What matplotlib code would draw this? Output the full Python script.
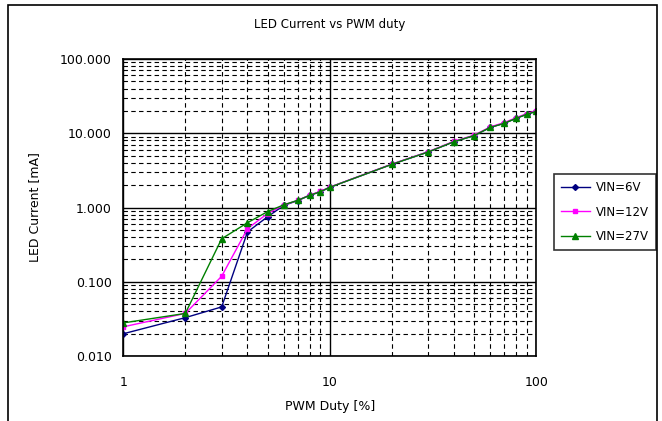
import numpy as np
import matplotlib
matplotlib.use("Agg")
import matplotlib.pyplot as plt
import matplotlib.patches as patches
from matplotlib.ticker import FixedLocator, NullFormatter

# PWM duty [%]
duty = [1, 2, 3, 4, 5, 6, 7, 8, 9, 10, 20, 30, 40, 50, 60, 70, 80, 90, 100]

# LED current [mA]
vin_6v = [0.020, 0.033, 0.046, 0.47, 0.75, 1.07, 1.24, 1.46, 1.63, 1.87,
          3.82, 5.6, 7.7, 9.3, 12.0, 13.6, 15.9, 18.0, 19.7]
vin_12v = [0.0248, 0.0376, 0.119, 0.52, 0.83, 1.08, 1.25, 1.47, 1.65, 1.88,
           3.85, 5.65, 7.8, 9.4, 12.2, 13.9, 16.2, 18.4, 20.2]
vin_27v = [0.028, 0.0376, 0.38, 0.625, 0.88, 1.09, 1.25, 1.46, 1.63, 1.87,
           3.82, 5.6, 7.7, 9.3, 12.0, 13.6, 15.9, 18.0, 19.7]

y_ticks = [0.01, 0.1, 1, 10, 100]
y_labels = ["0.010", "0.100", "1.000", "10.000", "100.000"]
x_ticks = [1, 10, 100]
x_labels = ["1", "10", "100"]

plt.rcParams['font.family'] = ['DejaVu Sans']

fig = plt.figure(figsize=(6.62, 4.21), dpi=100)
ax = fig.add_axes([0.186, 0.154, 0.624, 0.706])

ax.plot(duty, vin_6v, color='#000080', marker='D', markersize=3, lw=1.0, label='VIN=6V')
ax.plot(duty, vin_12v, color='#ff00ff', marker='s', markersize=3, lw=1.0, label='VIN=12V')
ax.plot(duty, vin_27v, color='#008000', marker='^', markersize=4, lw=1.0, label='VIN=27V')

ax.set_xscale('log')
ax.set_yscale('log')
ax.set_xlim(1, 100)
ax.set_ylim(0.01, 100)

ax.yaxis.set_major_locator(FixedLocator(y_ticks))
ax.set_yticklabels(y_labels)
ax.xaxis.set_major_locator(FixedLocator(x_ticks))
ax.set_xticklabels(x_labels)

minor_x = [m * 10 ** d for d in range(0, 2) for m in range(2, 10)]
minor_y = [m * 10.0 ** d for d in range(-2, 2) for m in range(2, 10)]
ax.xaxis.set_minor_locator(FixedLocator(minor_x))
ax.yaxis.set_minor_locator(FixedLocator(minor_y))
ax.xaxis.set_minor_formatter(NullFormatter())
ax.yaxis.set_minor_formatter(NullFormatter())

ax.grid(True, which='major', color='black', lw=1.0, ls='-')
ax.grid(True, which='minor', color='black', lw=0.8, ls=(0, (4, 3)))
ax.set_axisbelow(True)
ax.tick_params(axis='y', which='both', length=0, labelsize=9, pad=8)
ax.tick_params(axis='x', which='both', length=0, labelsize=9, pad=14.5)

for s in ax.spines.values():
    s.set_linewidth(1.2)

ax.set_title('LED Current vs PWM duty', fontsize=8.5, pad=22)
ax.set_xlabel('PWM Duty [%]', fontsize=9, labelpad=8)
ax.set_ylabel('LED Current [mA]', fontsize=9, labelpad=14)

leg = ax.legend(loc='center left', bbox_to_anchor=(1.029, 0.485), fontsize=8.5,
                frameon=True, fancybox=False, edgecolor='black',
                handlelength=2.4, borderpad=0.6, labelspacing=0.95,
                handletextpad=0.5)
leg.get_frame().set_linewidth(1.2)

# outer chart frame
fig.patches.append(patches.Rectangle((8 / 662, -0.05), 649 / 662, 1.05 - 5 / 421,
                                     transform=fig.transFigure, fill=False,
                                     edgecolor='black', lw=1.2, clip_on=False))

fig.savefig('out.png', dpi=100)
